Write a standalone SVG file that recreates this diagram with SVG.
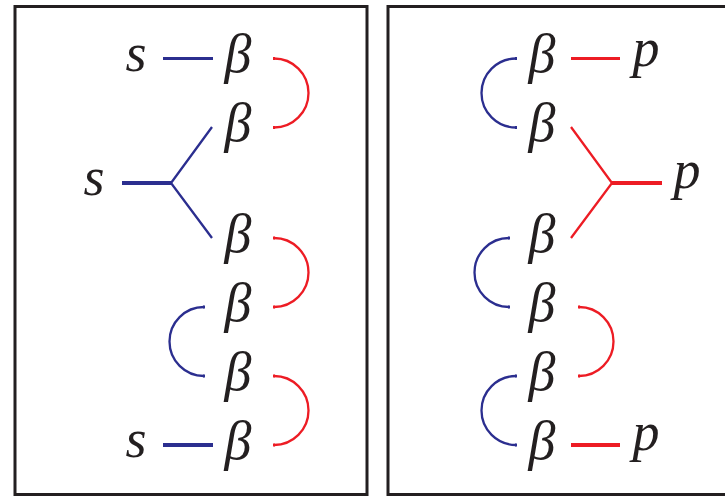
<svg xmlns="http://www.w3.org/2000/svg" width="725" height="496" viewBox="0 0 725 496">
<style>
.frame{fill:none;stroke:#231f20;stroke-width:3}
.t{font-family:'Liberation Serif','DejaVu Serif',serif;font-style:italic;font-size:54px;fill:#231f20;text-anchor:middle}
.b{fill:none;stroke:#2b2e8f;stroke-width:2.3}
.r{fill:none;stroke:#ed1c24;stroke-width:2.3}
.bt{stroke:#2b2e8f;stroke-width:4}
.rt{stroke:#ed1c24;stroke-width:4}
.bm{stroke:#2b2e8f;stroke-width:2.8}
.rm{stroke:#ed1c24;stroke-width:2.8}
</style>
<defs>
<marker id="tb" viewBox="0 0 4 4" refX="2" refY="2" markerWidth="4" markerHeight="4" markerUnits="userSpaceOnUse" orient="auto"><rect x="1" y="0.5" width="2" height="3" fill="#2b2e8f"/></marker>
<marker id="tr" viewBox="0 0 4 4" refX="2" refY="2" markerWidth="4" markerHeight="4" markerUnits="userSpaceOnUse" orient="auto"><rect x="1" y="0.5" width="2" height="3" fill="#ed1c24"/></marker>
</defs>
<rect width="725" height="496" fill="#ffffff"/>
<g id="panel-left">
<rect class="frame" x="15" y="6.5" width="352" height="488"/>
</g>
<g id="panel-right">
<rect class="frame" x="388" y="6.5" width="345" height="488"/>
</g>
<g id="connectors">
<line class="bm" x1="163" y1="58.5" x2="213" y2="58.5"/>
<line class="bt" x1="122" y1="183" x2="171" y2="183"/>
<polyline class="b" points="212,127 171,183 212,238"/>
<line class="bt" x1="163" y1="445" x2="213" y2="445"/>
<path class="r" d="M274,58.5 A34.5,34.5 0 0 1 274,127.5" marker-start="url(#tr)" marker-end="url(#tr)"/>
<path class="r" d="M274,238 A34.5,34.5 0 0 1 274,307" marker-start="url(#tr)" marker-end="url(#tr)"/>
<path class="r" d="M274,376 A34.5,34.5 0 0 1 274,445" marker-start="url(#tr)" marker-end="url(#tr)"/>
<path class="b" d="M204,307 A34.5,34.5 0 0 0 204,376" marker-start="url(#tb)" marker-end="url(#tb)"/>
<line class="rm" x1="571" y1="58.5" x2="620" y2="58.5"/>
<polyline class="r" points="571,127 612,183 571,238"/>
<line class="rt" x1="612" y1="183" x2="662" y2="183"/>
<line class="rt" x1="571" y1="445" x2="620" y2="445"/>
<path class="b" d="M516,58.5 A34.5,34.5 0 0 0 516,127.5" marker-start="url(#tb)" marker-end="url(#tb)"/>
<path class="b" d="M509,238 A34.5,34.5 0 0 0 509,307" marker-start="url(#tb)" marker-end="url(#tb)"/>
<path class="r" d="M579,307 A34.5,34.5 0 0 1 579,376" marker-start="url(#tr)" marker-end="url(#tr)"/>
<path class="b" d="M516,376 A34.5,34.5 0 0 0 516,445" marker-start="url(#tb)" marker-end="url(#tb)"/>
</g>
<g id="s1"><text class="t" x="136" y="71">s</text></g>
<g id="s2"><text class="t" x="94" y="195">s</text></g>
<g id="s3"><text class="t" x="136" y="457">s</text></g>
<g id="beta-l1"><text class="t" x="238" y="72">β</text></g>
<g id="beta-l2"><text class="t" x="238" y="141">β</text></g>
<g id="beta-l3"><text class="t" x="238" y="252">β</text></g>
<g id="beta-l4"><text class="t" x="238" y="321">β</text></g>
<g id="beta-l5"><text class="t" x="238" y="390">β</text></g>
<g id="beta-l6"><text class="t" x="238" y="459">β</text></g>
<g id="beta-r1"><text class="t" x="542" y="72">β</text></g>
<g id="beta-r2"><text class="t" x="542" y="141">β</text></g>
<g id="beta-r3"><text class="t" x="542" y="252">β</text></g>
<g id="beta-r4"><text class="t" x="542" y="321">β</text></g>
<g id="beta-r5"><text class="t" x="542" y="390">β</text></g>
<g id="beta-r6"><text class="t" x="542" y="459">β</text></g>
<g id="p1"><text class="t" x="646" y="66">p</text></g>
<g id="p2"><text class="t" x="687" y="188">p</text></g>
<g id="p3"><text class="t" x="646" y="450">p</text></g>
</svg>
